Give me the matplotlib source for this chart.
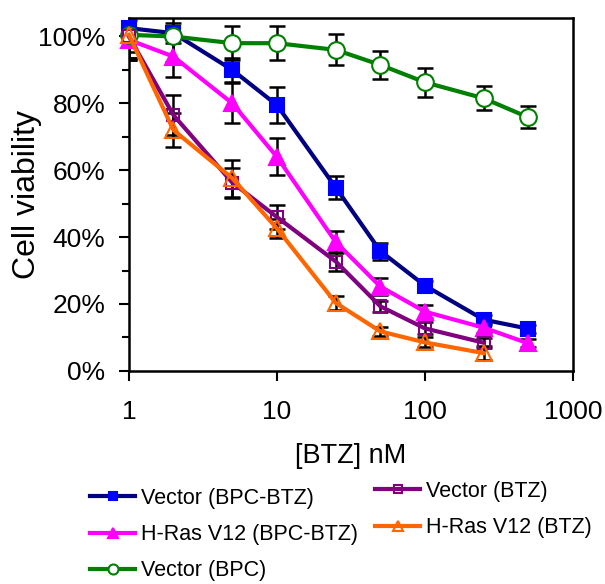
import numpy as np
import matplotlib
matplotlib.use("Agg")
import matplotlib.pyplot as plt
from matplotlib.ticker import FixedLocator, FuncFormatter, MultipleLocator

plt.rcParams["font.family"] = ["Liberation Sans", "DejaVu Sans"]

# BTZ concentration (nM)
conc = [1, 2, 5, 10, 25, 50, 100, 250, 500]
conc_btz = [1, 2, 5, 10, 25, 50, 100, 250]

# viability (%) and error
vec_bpc_btz = [102.5, 101, 90, 79.5, 54.8, 35.8, 25.5, 15.3, 12.6]
vec_bpc_btz_err = [7, 3, 3.5, 5.5, 3.5, 2.5, 1.5, 1.5, 1.2]
ras_bpc_btz = [99, 94, 80, 64, 38.5, 25.2, 17.7, 12.9, 8.2]
ras_bpc_btz_err = [6, 6, 6, 5.5, 3.2, 2.6, 2, 1.5, 1.2]
vec_bpc = [100.5, 100, 98, 98, 96, 91.5, 86.3, 81.5, 75.8]
vec_bpc_err = [7, 7.5, 5, 5, 4.6, 4.2, 4.3, 3.6, 3.3]
vec_btz = [100, 76.5, 56.3, 46, 32.7, 19.3, 12.7, 8.4]
vec_btz_err = [7, 6, 4.5, 3.5, 2.7, 1.7, 1.8, 1.5]
ras_btz = [100.5, 72, 57.6, 42.6, 20.3, 11.8, 8.5, 5.3]
ras_btz_err = [7, 5, 5.5, 2.8, 2.2, 1.3, 1.5, 2]

x_ticks = [1, 10, 100, 1000]
y_ticks = [0, 20, 40, 60, 80, 100]

series = [
    # label, x, y, err, line color, marker, face, edge, size
    ("Vector (BPC-BTZ)", conc, vec_bpc_btz, vec_bpc_btz_err,
     "#000080", "s", "#0000FF", "#0000FF", 10),
    ("H-Ras V12 (BPC-BTZ)", conc, ras_bpc_btz, ras_bpc_btz_err,
     "#FF00FF", "^", "#FF00FF", "#FF00FF", 12),
    ("Vector (BPC)", conc, vec_bpc, vec_bpc_err,
     "#008000", "o", "white", "#008000", 12),
    ("Vector (BTZ)", conc_btz, vec_btz, vec_btz_err,
     "#800080", "s", "none", "#800080", 9),
    ("H-Ras V12 (BTZ)", conc_btz, ras_btz, ras_btz_err,
     "#FF6600", "^", "none", "#FF6600", 12),
]

fig = plt.figure(figsize=(6.05, 5.84), dpi=100)
ax = fig.add_axes([0.213, 0.365, 0.734, 0.604])

handles = {}
for i, (label, xs, ys, err, lc, mk, fc, ec, ms) in enumerate(series):
    ax.errorbar(xs, ys, yerr=err, fmt="none", ecolor="black",
                elinewidth=1.8, capsize=6, capthick=1.8, zorder=2 + i * 0.1)
    h, = ax.plot(xs, ys, color=lc, linewidth=3, marker=mk, markersize=ms,
                 markerfacecolor=fc, markeredgecolor=ec, markeredgewidth=1.5,
                 zorder=3 + i * 0.1, clip_on=False)
    handles[label] = h

ax.set_xscale("log")
ax.set_xlim(1, 1000)
ax.set_ylim(0, 105.5)
ax.xaxis.set_major_locator(FixedLocator(x_ticks))
ax.xaxis.set_major_formatter(FuncFormatter(lambda v, p: f"{v:g}"))
ax.xaxis.set_minor_locator(FixedLocator([]))
ax.yaxis.set_major_locator(FixedLocator(y_ticks))
ax.yaxis.set_minor_locator(MultipleLocator(10))
ax.yaxis.set_major_formatter(FuncFormatter(lambda v, p: f"{v:.0f}%"))

ax.tick_params(axis="both", which="major", direction="out", length=7,
               width=1.5, labelsize=19, colors="black")
ax.tick_params(axis="y", which="minor", direction="out", length=5, width=1.5)
ax.tick_params(axis="x", pad=14)
ax.tick_params(axis="y", pad=10)
for sp in ax.spines.values():
    sp.set_linewidth(1.8)

ax.set_xlabel("[BTZ] nM", fontsize=19.5, labelpad=14)
ax.set_ylabel("Cell viability", fontsize=23, labelpad=-3)

leg_kw = dict(frameon=False, fontsize=15.5, handlelength=2.1,
              handletextpad=0.25, labelspacing=0.7, markerscale=0.6,
              borderaxespad=0, borderpad=0)
col1 = ["Vector (BPC-BTZ)", "H-Ras V12 (BPC-BTZ)", "Vector (BPC)"]
col2 = ["Vector (BTZ)", "H-Ras V12 (BTZ)"]
leg1 = fig.legend([handles[k] for k in col1], col1, loc="upper left",
                  bbox_to_anchor=(90 / 605, 1 - 488 / 584), **leg_kw)
leg2 = fig.legend([handles[k] for k in col2], col2, loc="upper left",
                  bbox_to_anchor=(375 / 605, 1 - 481 / 584), **leg_kw)

fig.savefig("out.png", dpi=100)
